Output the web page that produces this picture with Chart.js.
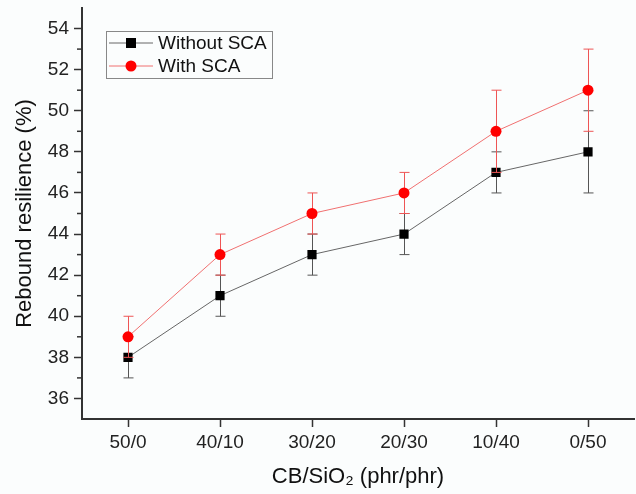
<!DOCTYPE html>
<html>
<head>
<meta charset="utf-8">
<script src="https://cdn.jsdelivr.net/npm/chart.js@4"></script>
<style>
  html, body { margin: 0; padding: 0; background: #fbfdfd; }
  #wrap { width: 636px; height: 494px; }
</style>
</head>
<body>
<div id="wrap"><canvas id="chart"></canvas></div>
<script>
const categories = ["50/0", "40/10", "30/20", "20/30", "10/40", "0/50"];
const withoutSCA = [38, 41, 43, 44, 47, 48];
const withoutSCAErr = [1, 1, 1, 1, 1, 2];
const withSCA = [39, 43, 45, 46, 49, 51];
const withSCAErr = [1, 1, 1, 1, 2, 2];
const yTicks = [36, 38, 40, 42, 44, 46, 48, 50, 52, 54];
const yMinorTicks = [37, 39, 41, 43, 45, 47, 49, 51, 53];

const font = "'Liberation Sans', Arial, sans-serif";

// error bars, drawn under each dataset's line and markers
const errorBars = {
  id: "errorBars",
  beforeDatasetDraw(chart, args) {
    const ds = chart.data.datasets[args.index];
    if (!ds.errors) return;
    const y = chart.scales.y;
    const ctx = chart.ctx;
    ctx.save();
    ctx.strokeStyle = ds.errorColor;
    ctx.lineWidth = 1;
    args.meta.data.forEach((pt, i) => {
      const v = ds.data[i], e = ds.errors[i];
      const top = y.getPixelForValue(v + e);
      const bot = y.getPixelForValue(v - e);
      const x = Math.round(pt.x) + 0.5;
      ctx.beginPath();
      ctx.moveTo(x, top); ctx.lineTo(x, bot);
      ctx.moveTo(x - 5, top); ctx.lineTo(x + 5, top);
      ctx.moveTo(x - 5, bot); ctx.lineTo(x + 5, bot);
      ctx.stroke();
    });
    ctx.restore();
  }
};

// minor ticks on the y axis
const minorTicks = {
  id: "minorTicks",
  afterDraw(chart) {
    const y = chart.scales.y;
    const ctx = chart.ctx;
    const left = chart.chartArea.left;
    ctx.save();
    ctx.strokeStyle = "#333";
    ctx.lineWidth = 1.5;
    yMinorTicks.forEach((v) => {
      const py = y.getPixelForValue(v);
      ctx.beginPath();
      ctx.moveTo(left - 5, py); ctx.lineTo(left, py);
      ctx.stroke();
    });
    ctx.restore();
  }
};

// boxed legend with line + marker samples
const boxLegend = {
  id: "boxLegend",
  afterDraw(chart) {
    const ctx = chart.ctx;
    const a = chart.chartArea;
    const x0 = a.left + 24, y0 = a.top + 23;
    const w = 166, h = 47;
    ctx.save();
    ctx.strokeStyle = "#888";
    ctx.lineWidth = 1;
    ctx.strokeRect(x0 + 0.5, y0 + 0.5, w, h);
    ctx.font = "19px " + font;
    ctx.textBaseline = "middle";
    chart.data.datasets.forEach((ds, i) => {
      const cy = y0 + 12 + i * 23;
      ctx.strokeStyle = ds.borderColor;
      ctx.beginPath();
      ctx.moveTo(x0 + 3, cy); ctx.lineTo(x0 + 47, cy);
      ctx.stroke();
      ctx.fillStyle = ds.pointBackgroundColor;
      if (ds.pointStyle === "rect") {
        ctx.fillRect(x0 + 25 - 5, cy - 5, 10, 10);
      } else {
        ctx.beginPath();
        ctx.arc(x0 + 25, cy, 5.5, 0, Math.PI * 2);
        ctx.fill();
      }
      ctx.fillStyle = "#111";
      ctx.fillText(ds.label, x0 + 52, cy + 1);
    });
    ctx.restore();
  }
};

new Chart(document.getElementById("chart"), {
  type: "line",
  data: {
    labels: categories,
    datasets: [
      {
        label: "Without SCA",
        data: withoutSCA,
        errors: withoutSCAErr,
        errorColor: "#555",
        borderColor: "#666",
        borderWidth: 1,
        pointStyle: "rect",
        pointRadius: 6.5,
        pointBackgroundColor: "#000",
        pointBorderColor: "#000",
        pointBorderWidth: 0,
        order: 1
      },
      {
        label: "With SCA",
        data: withSCA,
        errors: withSCAErr,
        errorColor: "#ee5555",
        borderColor: "#f07070",
        borderWidth: 1,
        pointStyle: "circle",
        pointRadius: 5.5,
        pointBackgroundColor: "#ff0000",
        pointBorderColor: "#ff0000",
        pointBorderWidth: 0,
        order: 0
      }
    ]
  },
  options: {
    responsive: true,
    maintainAspectRatio: false,
    animation: false,
    layout: { autoPadding: false, padding: { top: 8, right: 2 } },
    plugins: {
      legend: { display: false },
      tooltip: { enabled: false }
    },
    scales: {
      x: {
        offset: true,
        afterFit: (s) => { s.height = 75; s.paddingLeft = 0; s.paddingRight = 0; },
        border: { color: "#333", width: 2 },
        grid: { display: true, drawOnChartArea: false, tickLength: 8, tickColor: "#333", tickWidth: 1.5, offset: false },
        ticks: { color: "#222", font: { family: font, size: 19 }, padding: 4, maxRotation: 0 },
        title: { display: true, text: "CB/SiO\u2082 (phr/phr)", color: "#111", font: { family: font, size: 22 }, padding: { top: 6 } }
      },
      y: {
        min: 35,
        max: 55,
        afterFit: (s) => { s.width = 82; s.paddingTop = 0; s.paddingBottom = 0; },
        afterBuildTicks: (s) => { s.ticks = yTicks.map((v) => ({ value: v })); },
        border: { color: "#333", width: 2 },
        grid: { display: true, drawOnChartArea: false, tickLength: 8, tickColor: "#333", tickWidth: 1.5 },
        ticks: { color: "#222", font: { family: font, size: 19 }, padding: 5 },
        title: { display: true, text: "Rebound resilience (%)", color: "#111", font: { family: font, size: 22 }, padding: { top: 12, bottom: 4 } }
      }
    }
  },
  plugins: [errorBars, minorTicks, boxLegend]
});
</script>
</body>
</html>
